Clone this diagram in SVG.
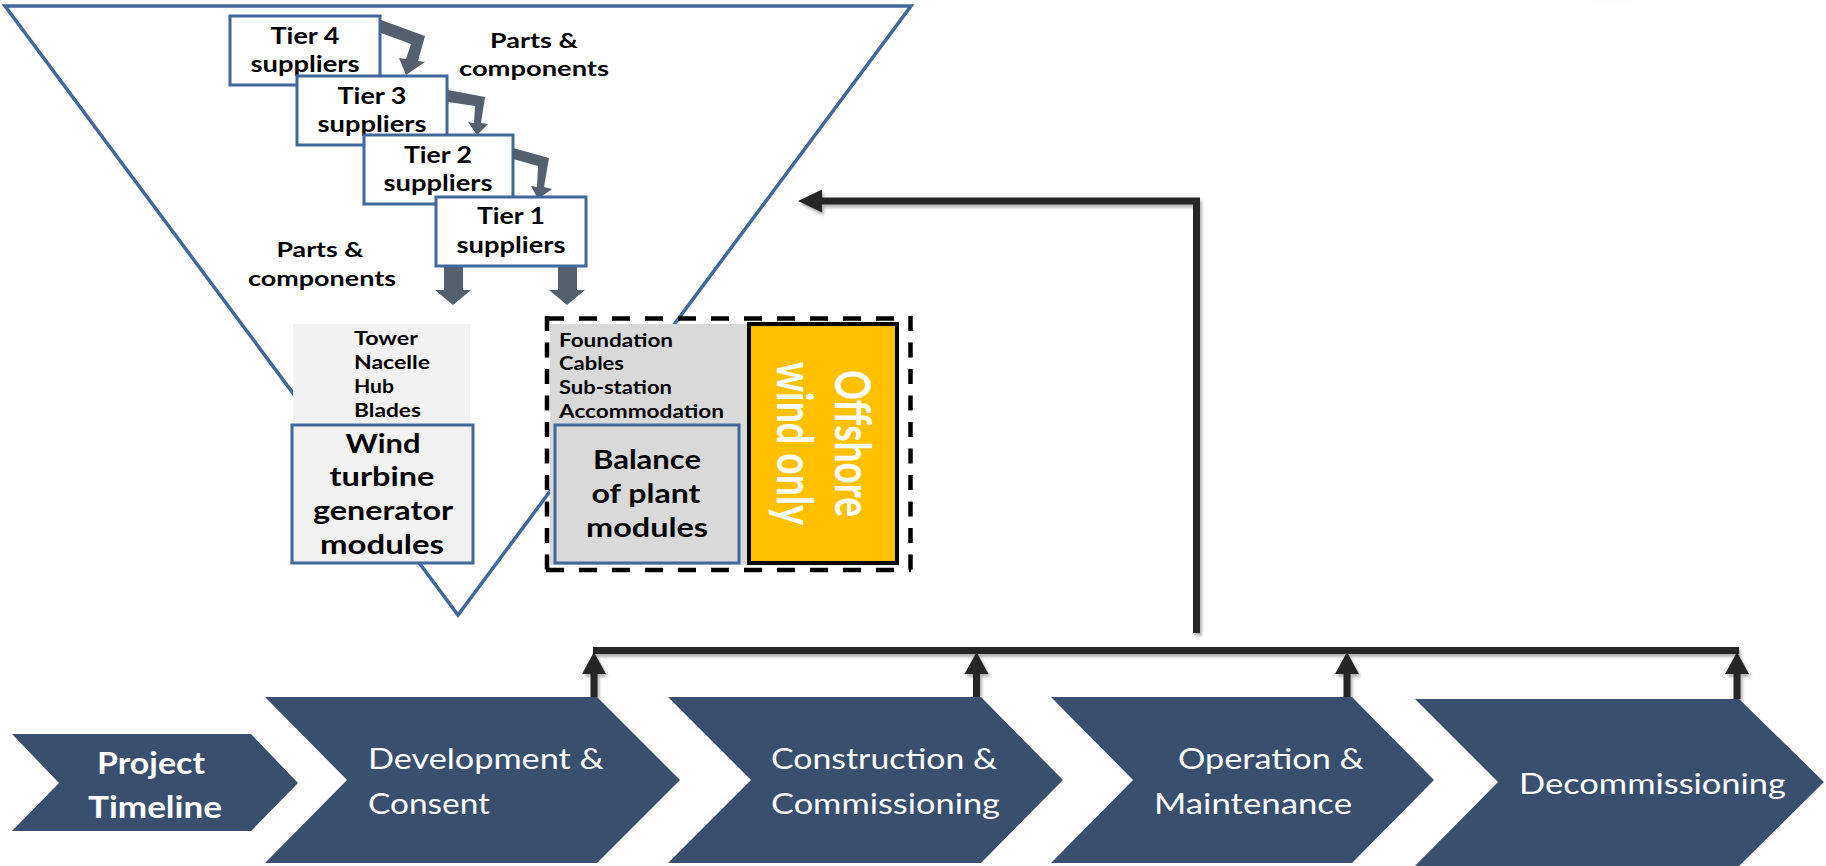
<svg xmlns="http://www.w3.org/2000/svg" width="1826" height="866" viewBox="0 0 1826 866">
<defs>
<style>
.t{font-family:Lato,"Open Sans","Liberation Sans",sans-serif;}
.b{font-weight:bold;fill:#000;}
.w{fill:#fff;}
.box{fill:#fff;stroke:#41679b;stroke-width:3;}
.chev{fill:#394f6e;}
.garr{fill:#54606e;}
.con{stroke:#262626;stroke-width:7;fill:none;}
.head{fill:#262626;}
</style>
<filter id="sh" x="-5%" y="-5%" width="110%" height="110%">
<feDropShadow dx="2" dy="3" stdDeviation="1.5" flood-color="#000" flood-opacity="0.3"/>
</filter>
<radialGradient id="tr" cx="0.5" cy="0.2" r="0.6">
<stop offset="0" stop-color="#8a8a8a" stop-opacity="0.9"/>
<stop offset="1" stop-color="#ffffff" stop-opacity="0"/>
</radialGradient>
</defs>
<rect width="1826" height="866" fill="#fff"/>
<ellipse cx="1610" cy="-4" rx="52" ry="12" fill="url(#tr)"/>

<g id="funnel">
<polygon points="5,6 911,6 458,615" fill="none" stroke="#41679b" stroke-width="3.5" stroke-linejoin="miter"/>
</g>

<g id="tier4">
<rect class="box" x="230" y="16" width="150" height="69"/>
<text class="t b" x="305" y="44" font-size="22" text-anchor="middle" textLength="69" lengthAdjust="spacingAndGlyphs">Tier 4</text>
<text class="t b" x="305" y="72" font-size="22" text-anchor="middle" textLength="109" lengthAdjust="spacingAndGlyphs">suppliers</text>
</g>
<g id="tier3">
<rect class="box" x="297" y="76" width="150" height="69"/>
<text class="t b" x="372" y="104" font-size="22" text-anchor="middle" textLength="69" lengthAdjust="spacingAndGlyphs">Tier 3</text>
<text class="t b" x="372" y="132" font-size="22" text-anchor="middle" textLength="109" lengthAdjust="spacingAndGlyphs">suppliers</text>
</g>
<g id="tier2">
<rect class="box" x="364" y="135" width="149" height="69"/>
<text class="t b" x="438" y="163" font-size="22" text-anchor="middle" textLength="68" lengthAdjust="spacingAndGlyphs">Tier 2</text>
<text class="t b" x="438" y="191" font-size="22" text-anchor="middle" textLength="109" lengthAdjust="spacingAndGlyphs">suppliers</text>
</g>

<g id="connectors">
<polygon class="garr" points="381,20 425,36 418,61 425,62 406,75 399,58 406,59 411,44 381,33"/>
<polygon class="garr" points="448,90 485,97 481,123 488,124 477,135 468,122 474,123 475,106 448,102"/>
<polygon class="garr" points="513,148 549,158 544,187 552,189 538,199 531,186 537,187 538,166 513,159"/>
<polygon class="garr" points="444,266 463,266 463,290 471,290 453,305 435,290 444,290"/>
<polygon class="garr" points="558,266 577,266 577,290 585,290 567,305 549,290 558,290"/>
<g filter="url(#sh)">
<path class="con" d="M593,650.5 H1739"/>
<path class="con" d="M1196.5,633 V201 H822"/>
<polygon class="head" points="798,201 822,189.5 822,212.5"/>
<path class="con" d="M594,697 V672"/>
<polygon class="head" points="594,652 582,674 606,674"/>
<path class="con" d="M976.5,697 V672"/>
<polygon class="head" points="976.5,652 964.5,674 988.5,674"/>
<path class="con" d="M1347,697 V672"/>
<polygon class="head" points="1347,652 1335,674 1359,674"/>
<path class="con" d="M1737,699 V672"/>
<polygon class="head" points="1737,652 1725,674 1749,674"/>
</g>
</g>

<g id="tier1">
<rect class="box" x="436" y="197" width="150" height="69"/>
<text class="t b" x="511" y="224" font-size="22" text-anchor="middle" textLength="68" lengthAdjust="spacingAndGlyphs">Tier 1</text>
<text class="t b" x="511" y="253" font-size="22" text-anchor="middle" textLength="109" lengthAdjust="spacingAndGlyphs">suppliers</text>
</g>

<g id="parts-top">
<text class="t b" x="534" y="48" font-size="21" text-anchor="middle" textLength="88" lengthAdjust="spacingAndGlyphs">Parts &amp;</text>
<text class="t b" x="534" y="76" font-size="21" text-anchor="middle" textLength="150" lengthAdjust="spacingAndGlyphs">components</text>
</g>
<g id="parts-bottom">
<text class="t b" x="320" y="257" font-size="21" text-anchor="middle" textLength="87" lengthAdjust="spacingAndGlyphs">Parts &amp;</text>
<text class="t b" x="322" y="286" font-size="21" text-anchor="middle" textLength="148" lengthAdjust="spacingAndGlyphs">components</text>
</g>

<g id="wtg">
<rect x="293" y="324" width="177" height="102" fill="#f2f2f2"/>
<text class="t b" x="354" y="345" font-size="19" textLength="64" lengthAdjust="spacingAndGlyphs">Tower</text>
<text class="t b" x="354" y="369" font-size="19" textLength="76" lengthAdjust="spacingAndGlyphs">Nacelle</text>
<text class="t b" x="354" y="393" font-size="19" textLength="40" lengthAdjust="spacingAndGlyphs">Hub</text>
<text class="t b" x="354" y="417" font-size="19" textLength="67" lengthAdjust="spacingAndGlyphs">Blades</text>
<rect x="292" y="425" width="181" height="138" fill="#f2f2f2" stroke="#41679b" stroke-width="3"/>
<text class="t b" x="383" y="453" font-size="26" text-anchor="middle" textLength="75" lengthAdjust="spacingAndGlyphs">Wind</text>
<text class="t b" x="382" y="486" font-size="26" text-anchor="middle" textLength="105" lengthAdjust="spacingAndGlyphs">turbine</text>
<text class="t b" x="383" y="520" font-size="26" text-anchor="middle" textLength="140" lengthAdjust="spacingAndGlyphs">generator</text>
<text class="t b" x="382" y="554" font-size="26" text-anchor="middle" textLength="124" lengthAdjust="spacingAndGlyphs">modules</text>
</g>

<g id="bop">
<g stroke="#000" stroke-width="4.5" fill="none">
<path d="M546,318.5 H911" stroke-dasharray="18 15"/>
<path d="M546,570 H911" stroke-dasharray="18 15"/>
<path d="M547,316 V572" stroke-dasharray="15 11.5"/>
<path d="M910.5,316 V572" stroke-dasharray="15 11.5"/>
</g>
<rect x="550" y="324" width="199" height="241" fill="#d9d9d9"/>
<text class="t b" x="559" y="347" font-size="19" textLength="114" lengthAdjust="spacingAndGlyphs">Foundation</text>
<text class="t b" x="559" y="370" font-size="19" textLength="65" lengthAdjust="spacingAndGlyphs">Cables</text>
<text class="t b" x="559" y="394" font-size="19" textLength="113" lengthAdjust="spacingAndGlyphs">Sub-station</text>
<text class="t b" x="559" y="418" font-size="19" textLength="165" lengthAdjust="spacingAndGlyphs">Accommodation</text>
<rect x="555" y="425" width="184" height="138" fill="#d9d9d9" stroke="#41679b" stroke-width="3"/>
<text class="t b" x="647" y="469" font-size="26" text-anchor="middle" textLength="108" lengthAdjust="spacingAndGlyphs">Balance</text>
<text class="t b" x="646" y="503" font-size="26" text-anchor="middle" textLength="109" lengthAdjust="spacingAndGlyphs">of plant</text>
<text class="t b" x="647" y="537" font-size="26" text-anchor="middle" textLength="122" lengthAdjust="spacingAndGlyphs">modules</text>
</g>

<g id="offshore">
<rect x="749" y="324" width="148" height="239" fill="#ffc000" stroke="#000" stroke-width="4"/>
<text class="t w" font-weight="bold" font-size="50" text-anchor="middle" transform="translate(835,443.5) rotate(90)" textLength="147" lengthAdjust="spacingAndGlyphs">Offshore</text>
<text class="t w" font-weight="bold" font-size="50" text-anchor="middle" transform="translate(777,443.5) rotate(90)" textLength="163" lengthAdjust="spacingAndGlyphs">wind only</text>
</g>

<g id="project-timeline">
<polygon class="chev" points="12,734 251,734 298,783 251,831 12,831 59,783"/>
<text class="t w" font-weight="bold" x="151" y="774" font-size="30" text-anchor="middle" textLength="108" lengthAdjust="spacingAndGlyphs">Project</text>
<text class="t w" font-weight="bold" x="155" y="818" font-size="30" text-anchor="middle" textLength="134" lengthAdjust="spacingAndGlyphs">Timeline</text>
</g>
<g id="development">
<polygon class="chev" points="265,697 597,697 680,780 597,863 265,863 347,780"/>
<text class="t w" x="368" y="769" font-size="29" textLength="236" lengthAdjust="spacingAndGlyphs">Development &amp;</text>
<text class="t w" x="368" y="814" font-size="29" textLength="122" lengthAdjust="spacingAndGlyphs">Consent</text>
</g>
<g id="construction">
<polygon class="chev" points="668,697 981,697 1063,780 981,863 668,863 751,780"/>
<text class="t w" x="771" y="769" font-size="29" textLength="226" lengthAdjust="spacingAndGlyphs">Construction &amp;</text>
<text class="t w" x="771" y="814" font-size="29" textLength="229" lengthAdjust="spacingAndGlyphs">Commissioning</text>
</g>
<g id="operation">
<polygon class="chev" points="1051,697 1352,697 1434,780 1352,863 1051,863 1133,780"/>
<text class="t w" x="1178" y="769" font-size="29" textLength="186" lengthAdjust="spacingAndGlyphs">Operation &amp;</text>
<text class="t w" x="1154" y="814" font-size="29" textLength="198" lengthAdjust="spacingAndGlyphs">Maintenance</text>
</g>
<g id="decommissioning">
<polygon class="chev" points="1415,699 1739,699 1824,782 1739,866 1415,866 1498,782"/>
<text class="t w" x="1519" y="794" font-size="29" textLength="267" lengthAdjust="spacingAndGlyphs">Decommissioning</text>
</g>
</svg>
